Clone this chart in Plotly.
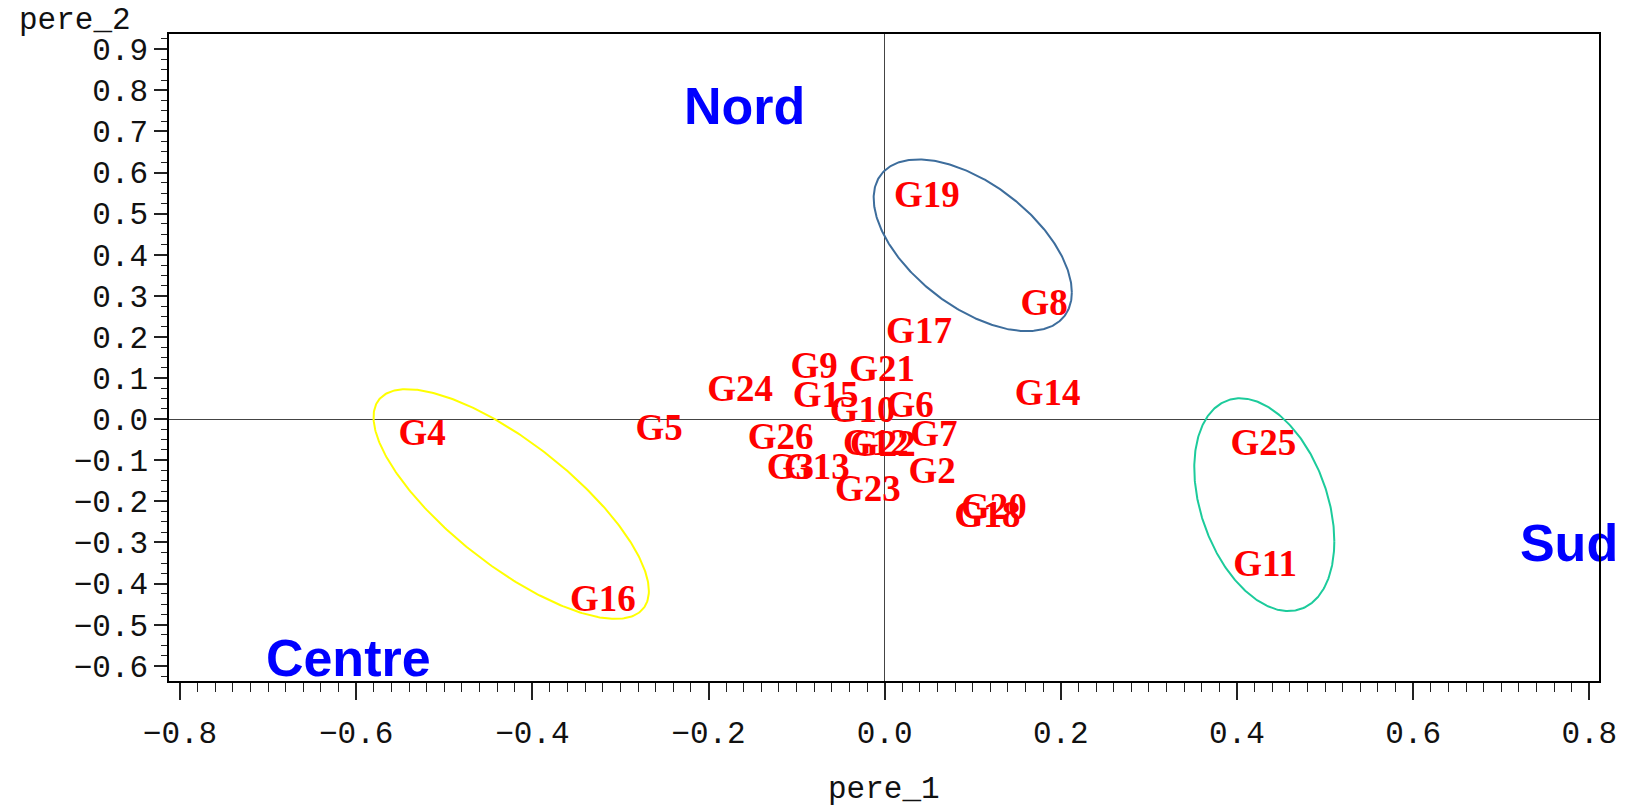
import numpy as np
import plotly.graph_objects as go

# Group coordinates on the first two factorial axes
groups = ["G1", "G2", "G3", "G4", "G5", "G6", "G7", "G8", "G9", "G10", "G11", "G12", "G13",
          "G14", "G15", "G16", "G17", "G18", "G19", "G20", "G21", "G22", "G23", "G24", "G25", "G26"]
pere_1 = [0.106, 0.054, -0.107, -0.525, -0.256, 0.029, 0.056, 0.181, -0.080, -0.025, 0.432, -0.010, -0.077,
          0.185, -0.067, -0.320, 0.039, 0.117, 0.048, 0.124, -0.003, -0.002, -0.019, -0.164, 0.430, -0.118]
pere_2 = [-0.239, -0.134, -0.122, -0.040, -0.028, 0.028, -0.042, 0.276, 0.123, 0.016, -0.360, -0.064, -0.122,
          0.057, 0.053, -0.443, 0.208, -0.241, 0.539, -0.220, 0.116, -0.066, -0.176, 0.067, -0.064, -0.049]

# Region names
regions = ["Nord", "Sud", "Centre"]
region_x = [-0.159, 0.777, -0.609]
region_y = [0.750, -0.314, -0.592]

# Ellipses: centre, half-extents along each axis, correlation, colour
ell_cx = [0.100, -0.424, 0.431]
ell_cy = [0.423, -0.2065, -0.208]
ell_hx = [0.1125, 0.1563, 0.0795]
ell_hy = [0.2089, 0.2794, 0.2588]
ell_rho = [-0.548, -0.757, -0.345]
ell_color = ["#3d6d9c", "#ffff00", "#1ccb9b"]

fig = go.Figure()

t = np.linspace(0, 2 * np.pi, 361)
for cx, cy, hx, hy, rho, col in zip(ell_cx, ell_cy, ell_hx, ell_hy, ell_rho, ell_color):
    ex = cx + hx * np.cos(t)
    ey = cy + hy * (rho * np.cos(t) + np.sqrt(1 - rho ** 2) * np.sin(t))
    fig.add_trace(go.Scatter(x=ex, y=ey, mode="lines", line=dict(color=col, width=2),
                             hoverinfo="skip", showlegend=False))

fig.add_trace(go.Scatter(
    x=pere_1, y=pere_2, text=[f"<b>{g}</b>" for g in groups], mode="text",
    textposition="middle center",
    textfont=dict(family="Liberation Serif, DejaVu Serif, serif", size=37, color="#ff0000"),
    cliponaxis=False, showlegend=False))

fig.add_trace(go.Scatter(
    x=region_x, y=region_y, text=[f"<b>{r}</b>" for r in regions], mode="text",
    textposition="middle center",
    textfont=dict(family="Liberation Sans, Arial, sans-serif", size=52, color="#0000ff"),
    cliponaxis=False, showlegend=False))

mono = dict(family="Liberation Mono", size=31, color="#111111")

fig.update_layout(
    width=1630, height=806,
    margin=dict(l=169, r=31, t=34, b=125, autoexpand=False),
    paper_bgcolor="white", plot_bgcolor="white",
    font=mono,
    xaxis=dict(
        range=[-0.8125, 0.811], tick0=0, dtick=0.2, tickformat=".1f",
        ticks="outside", ticklen=17, tickwidth=1.5, tickcolor="#222",
        minor=dict(dtick=0.02, tick0=0, ticks="outside", ticklen=9, tickwidth=1.2, tickcolor="#222"),
        showline=True, linecolor="black", linewidth=1.5, mirror=True,
        showgrid=False, zeroline=True, zerolinecolor="#444", zerolinewidth=1.2,
        tickfont=mono, ticklabelstandoff=6, automargin=False,
    ),
    yaxis=dict(
        range=[-0.637, 0.937], tick0=0, dtick=0.1, tickformat=".1f",
        ticks="outside", ticklen=13, tickwidth=1.5, tickcolor="#222",
        minor=dict(dtick=0.025, tick0=0, ticks="outside", ticklen=6, tickwidth=1.2, tickcolor="#222"),
        showline=True, linecolor="black", linewidth=1.5, mirror=True,
        showgrid=False, zeroline=True, zerolinecolor="#444", zerolinewidth=1.2,
        tickfont=mono, automargin=False,
    ),
    annotations=[
        dict(text="pere_2", xref="paper", yref="paper", x=-0.0655, y=1.0215,
             xanchor="center", yanchor="middle", showarrow=False, font=mono),
        dict(text="pere_1", xref="paper", yref="paper", x=0.5, y=-0.1675,
             xanchor="center", yanchor="middle", showarrow=False, font=mono),
    ],
)

fig.write_html("out.html")
